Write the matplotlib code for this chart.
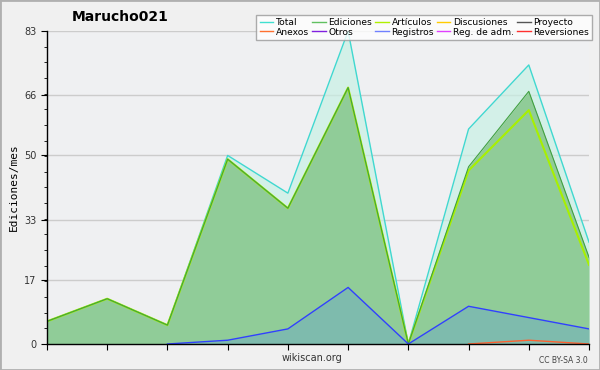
import numpy as np
import matplotlib.pyplot as plt
from matplotlib.lines import Line2D

months = list(range(10))
total = [6, 12, 5, 50, 40, 83, 0, 57, 74, 27]
ediciones = [6, 12, 5, 49, 36, 68, 0, 47, 67, 23]
articulos = [6, 12, 5, 49, 36, 68, 0, 46, 62, 21]
registros = [np.nan, np.nan, 0, 1, 4, 15, 0, 10, 7, 4]
anexos = [np.nan] * 7 + [0, 1, 0]

legend_names = ["Total", "Ediciones", "Artículos", "Discusiones", "Proyecto",
                "Anexos", "Otros", "Registros", "Reg. de adm.", "Reversiones"]
legend_colors = ["#40e0d0", "#60c060", "#b0f000", "#ffcc00", "#555555",
                 "#ff7030", "#8020e0", "#7080ff", "#e040ff", "#ff3030"]

bg = "#f0f0f0"
fig = plt.figure(figsize=(6, 3.7), dpi=100, facecolor=bg)
fig.patches.append(plt.Rectangle((0, 0), 1, 1, transform=fig.transFigure,
                                 fill=False, edgecolor="#b0b0b0", lw=2))
ax = fig.add_axes([0.0783, 0.0703, 0.9034, 0.8459])
ax.set_facecolor("#eff0f2")

x = np.array(months)
ax.fill_between(x, total, color="#c8f0e4", alpha=0.7, lw=0)
ax.plot(x, total, color="#40d8d0", lw=1)
ax.fill_between(x, ediciones, color="#90cc98", lw=0)
ax.plot(x, articulos, color="#a8f000", lw=1.5)
ax.plot(x, ediciones, color="#40a040", lw=0.8)
reg = np.array(registros, dtype=float)
m = ~np.isnan(reg)
ax.fill_between(x[m], reg[m], color="#6aa8c8", alpha=0.45, lw=0)
ax.plot(x, reg, color="#3040ff", lw=1)
ax.plot(x, anexos, color="#ff6030", lw=1)

ax.set_xlim(0, 9)
ax.set_ylim(0, 83)
ax.set_yticks([0, 17, 33, 50, 66, 83])
ax.set_yticks(np.arange(0, 83.1, 83 / 20), minor=True)
ax.set_xticks(months)
ax.set_xticklabels([])
ax.grid(axis="y", color="#cccccc", lw=1)
ax.set_axisbelow(True)
ax.tick_params(axis="both", labelsize=7, length=4, color="black", labelcolor="#333333")
ax.tick_params(axis="y", which="minor", length=2)
for s in ["top", "right"]:
    ax.spines[s].set_visible(False)
ax.spines["left"].set_linewidth(1)
ax.spines["bottom"].set_linewidth(1)
ax.set_ylabel("Ediciones/mes", fontsize=8, family="DejaVu Sans Mono")

fig.text(0.2, 0.955, "Marucho021", fontsize=10, fontweight="bold", ha="center", va="center")
fig.text(0.52, 0.025, "wikiscan.org", fontsize=7, color="#333333", ha="center")
fig.text(0.98, 0.018, "CC BY-SA 3.0", fontsize=5.5, color="#444444", ha="right")

handles = [Line2D([], [], color=c, lw=1) for c in legend_colors]
order = [0, 5, 1, 6, 2, 7, 3, 8, 4, 9]
leg = fig.legend([handles[i] for i in order], [legend_names[i] for i in order],
                 ncol=5, loc="upper right", bbox_to_anchor=(0.995, 0.972),
                 fontsize=6.6, handlelength=1.5, handletextpad=0.3,
                 columnspacing=0.3, labelspacing=0.05, borderpad=0.35,
                 frameon=True, fancybox=False, edgecolor="#999999")
leg.get_frame().set_linewidth(1)

fig.savefig("out.png", dpi=100, facecolor=bg)
